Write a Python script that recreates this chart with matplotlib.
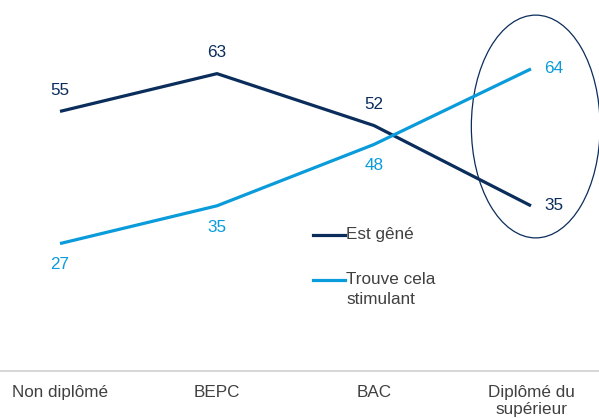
import matplotlib.pyplot as plt
from matplotlib.lines import Line2D
from matplotlib.patches import Ellipse

categories = ['Non diplômé', 'BEPC', 'BAC', 'Diplômé du\nsupérieur']
series_names = ['Est gêné', 'Trouve cela\nstimulant']
gene = [55, 63, 52, 35]
stimulant = [27, 35, 48, 64]

navy = '#0B2D5B'
blue = '#0A9BDB'
grey = '#404040'
fs = 12.3

plt.rcParams['font.family'] = ['Liberation Sans', 'DejaVu Sans']

W, H = 599, 418
fig = plt.figure(figsize=(W / 100, H / 100), dpi=100)
ax = fig.add_axes([0, 47 / H, 1, 371 / H])
x = list(range(len(categories)))

ax.plot(x, gene, color=navy, lw=2.3, solid_capstyle='butt')
ax.plot(x, stimulant, color=blue, lw=2.3, solid_capstyle='butt')

# value labels
for vals, col, below in [(gene, navy, False), (stimulant, blue, True)]:
    for i, v in enumerate(vals):
        if i == len(x) - 1:
            ax.annotate(str(v), (i, v), xytext=(9.5, 0), textcoords='offset points',
                        ha='left', va='center', color=col, fontsize=fs)
        elif below:
            ax.annotate(str(v), (i, v), xytext=(0, -10), textcoords='offset points',
                        ha='center', va='top', color=col, fontsize=fs)
        else:
            ax.annotate(str(v), (i, v), xytext=(0, 10), textcoords='offset points',
                        ha='center', va='bottom', color=col, fontsize=fs)

# ellipse highlighting the last category
ax.add_patch(Ellipse((3.03, 51.8), 0.82, 47.2, fill=False, ec=navy, lw=0.9, clip_on=False))

ax.set_xlim(-60 / 157, 539 / 157)
ax.set_ylim(0, 371 / 4.72)
ax.set_xticks(x)
ax.set_xticklabels(categories, color=grey, fontsize=fs, linespacing=1.2)
ax.tick_params(axis='x', length=0, pad=10)
ax.set_yticks([])
for s in ['top', 'left', 'right']:
    ax.spines[s].set_visible(False)
ax.spines['bottom'].set_color('#D0D0D0')
ax.spines['bottom'].set_linewidth(1.2)

# legend drawn by hand so the handle sits on the first text line
for name, col, ypix in [(series_names[0], navy, 235), (series_names[1], blue, 280)]:
    fig.add_artist(Line2D([313 / W, 345 / W], [1 - ypix / H, 1 - ypix / H], color=col, lw=2.3))
    for k, line in enumerate(name.split('\n')):
        fig.text(346 / W, 1 - (ypix + 4.5 + 20 * k) / H, line, ha='left', va='baseline',
                 color=grey, fontsize=fs)

fig.savefig('out.png', dpi=100)
